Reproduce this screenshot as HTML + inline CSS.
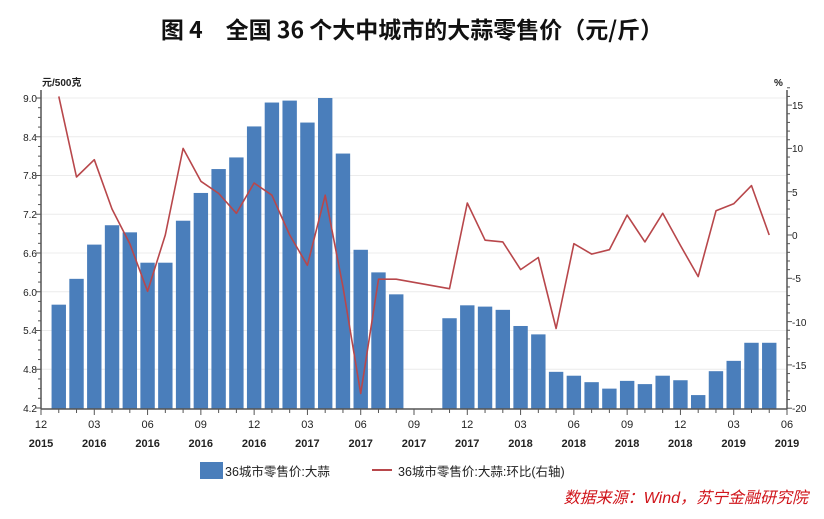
<!DOCTYPE html>
<html><head><meta charset="utf-8"><style>
body{margin:0;background:#fff;width:824px;height:519px;overflow:hidden}
svg{display:block;font-family:"Liberation Sans","Noto Sans CJK SC",sans-serif}
</style></head><body>
<svg id="s" width="824" height="519" viewBox="0 0 824 519">
<text x="412" y="38" text-anchor="middle" font-size="23" font-weight="bold" fill="#111" font-family="'Noto Sans CJK SC',sans-serif">图 4　全国 36 个大中城市的大蒜零售价（元/斤）</text>
<g stroke="#ececec" stroke-width="1">
<line x1="41" x2="787" y1="98" y2="98"/><line x1="41" x2="787" y1="136.75" y2="136.75"/><line x1="41" x2="787" y1="175.5" y2="175.5"/><line x1="41" x2="787" y1="214.25" y2="214.25"/><line x1="41" x2="787" y1="253" y2="253"/><line x1="41" x2="787" y1="291.75" y2="291.75"/><line x1="41" x2="787" y1="330.5" y2="330.5"/><line x1="41" x2="787" y1="369.25" y2="369.25"/>
</g>
<g id="bars" fill="#4a7ebb"></g>
<polyline id="ln" fill="none" stroke="#b8474b" stroke-width="1.6" stroke-linejoin="round"/>
<g stroke="#555" stroke-width="1.5"><line x1="41" y1="90" x2="41" y2="409"/><line x1="787" y1="90" x2="787" y2="409"/><line x1="41" y1="409" x2="787" y2="409"/></g>
<g id="ticks" stroke="#555" stroke-width="1"></g>
<g font-size="10" fill="#222" text-anchor="end">
<text x="37" y="102">9.0</text><text x="37" y="141">8.4</text><text x="37" y="179">7.8</text><text x="37" y="218">7.2</text><text x="37" y="257">6.6</text><text x="37" y="296">6.0</text><text x="37" y="334">5.4</text><text x="37" y="373">4.8</text><text x="37" y="412">4.2</text>
</g>
<g font-size="10" fill="#222">
<text x="792" y="109">15</text><text x="792" y="152">10</text><text x="792" y="196">5</text><text x="792" y="239">0</text><text x="792" y="282">-5</text><text x="792" y="326">-10</text><text x="792" y="369">-15</text><text x="792" y="412">-20</text>
<text x="42" y="86" font-weight="bold">元/500克</text><text x="774" y="86" font-weight="bold">%</text>
</g>
<g font-size="11" fill="#222" text-anchor="middle">
<text x="41" y="428">12</text><text x="94.3" y="428">03</text><text x="147.6" y="428">06</text><text x="200.8" y="428">09</text><text x="254.1" y="428">12</text><text x="307.4" y="428">03</text><text x="360.7" y="428">06</text><text x="414" y="428">09</text><text x="467.2" y="428">12</text><text x="520.5" y="428">03</text><text x="573.8" y="428">06</text><text x="627.1" y="428">09</text><text x="680.3" y="428">12</text><text x="733.6" y="428">03</text><text x="787" y="428">06</text>
</g>
<g font-size="11" fill="#222" text-anchor="middle" font-weight="bold">
<text x="41" y="447">2015</text><text x="94.3" y="447">2016</text><text x="147.6" y="447">2016</text><text x="200.8" y="447">2016</text><text x="254.1" y="447">2016</text><text x="307.4" y="447">2017</text><text x="360.7" y="447">2017</text><text x="414" y="447">2017</text><text x="467.2" y="447">2017</text><text x="520.5" y="447">2018</text><text x="573.8" y="447">2018</text><text x="627.1" y="447">2018</text><text x="680.3" y="447">2018</text><text x="733.6" y="447">2019</text><text x="787" y="447">2019</text>
</g>
<rect x="200" y="462" width="23" height="17" fill="#4a7ebb"/>
<text x="225" y="476" font-size="12.5" fill="#222">36城市零售价:大蒜</text>
<line x1="372" y1="470" x2="392" y2="470" stroke="#b8474b" stroke-width="2"/>
<text x="398" y="476" font-size="12.5" fill="#222">36城市零售价:大蒜:环比(右轴)</text>
<text x="808" y="503" font-size="16" font-style="italic" fill="#d0141a" text-anchor="end">数据来源：Wind，苏宁金融研究院</text>
</svg>
<script>
var NS="http://www.w3.org/2000/svg";
function X(i){return 41+17.762*i}
var bars={1:5.8,2:6.2,3:6.73,4:7.03,5:6.92,6:6.45,7:6.45,8:7.1,9:7.53,10:7.9,11:8.08,12:8.56,13:8.93,14:8.96,15:8.62,16:9.0,17:8.14,18:6.65,19:6.3,20:5.96,23:5.59,24:5.79,25:5.77,26:5.72,27:5.47,28:5.34,29:4.76,30:4.7,31:4.6,32:4.5,33:4.62,34:4.57,35:4.7,36:4.63,37:4.4,38:4.77,39:4.93,40:5.21,41:5.21};
var g=document.getElementById("bars");
for(var k in bars){var y=408-(bars[k]-4.2)*64.58;var r=document.createElementNS(NS,"rect");
r.setAttribute("x",X(+k)-7.2);r.setAttribute("width",14.4);r.setAttribute("y",y);r.setAttribute("height",409-y);g.appendChild(r);}
var L=[[1,16],[2,6.7],[3,8.7],[4,3],[5,-1],[6,-6.5],[7,0],[8,10],[9,6.2],[10,4.8],[11,2.5],[12,6],[13,4.6],[14,0],[15,-3.5],[16,4.6],[17,-6],[18,-18.3],[19,-5.1],[20,-5.1],[23,-6.2],[24,3.7],[25,-0.6],[26,-0.8],[27,-4],[28,-2.6],[29,-10.8],[30,-1],[31,-2.2],[32,-1.7],[33,2.3],[34,-0.8],[35,2.5],[36,-1.2],[37,-4.8],[38,2.8],[39,3.6],[40,5.7],[41,0]];
document.getElementById("ln").setAttribute("points",L.map(function(p){return X(p[0]).toFixed(1)+","+(235-p[1]*8.66).toFixed(1)}).join(" "));
var t=document.getElementById("ticks"),s="";
for(var i=0;i<=42;i++){s+='<line x1="'+X(i)+'" x2="'+X(i)+'" y1="409" y2="'+(i%3==0?415:413)+'"/>';}
for(var v=4.2;v<=9.01;v+=0.15){var y=408-(v-4.2)*64.58;var big=Math.abs((v-4.2)/0.6-Math.round((v-4.2)/0.6))<0.01;s+='<line x1="'+(big?36:38)+'" x2="41" y1="'+y+'" y2="'+y+'"/>';}
for(var v=-20;v<=17;v+=1){var y=235-v*8.66;s+='<line x1="787" x2="'+(v%5==0?792:790)+'" y1="'+y+'" y2="'+y+'"/>';}
t.innerHTML=s;
</script>
</body></html>
